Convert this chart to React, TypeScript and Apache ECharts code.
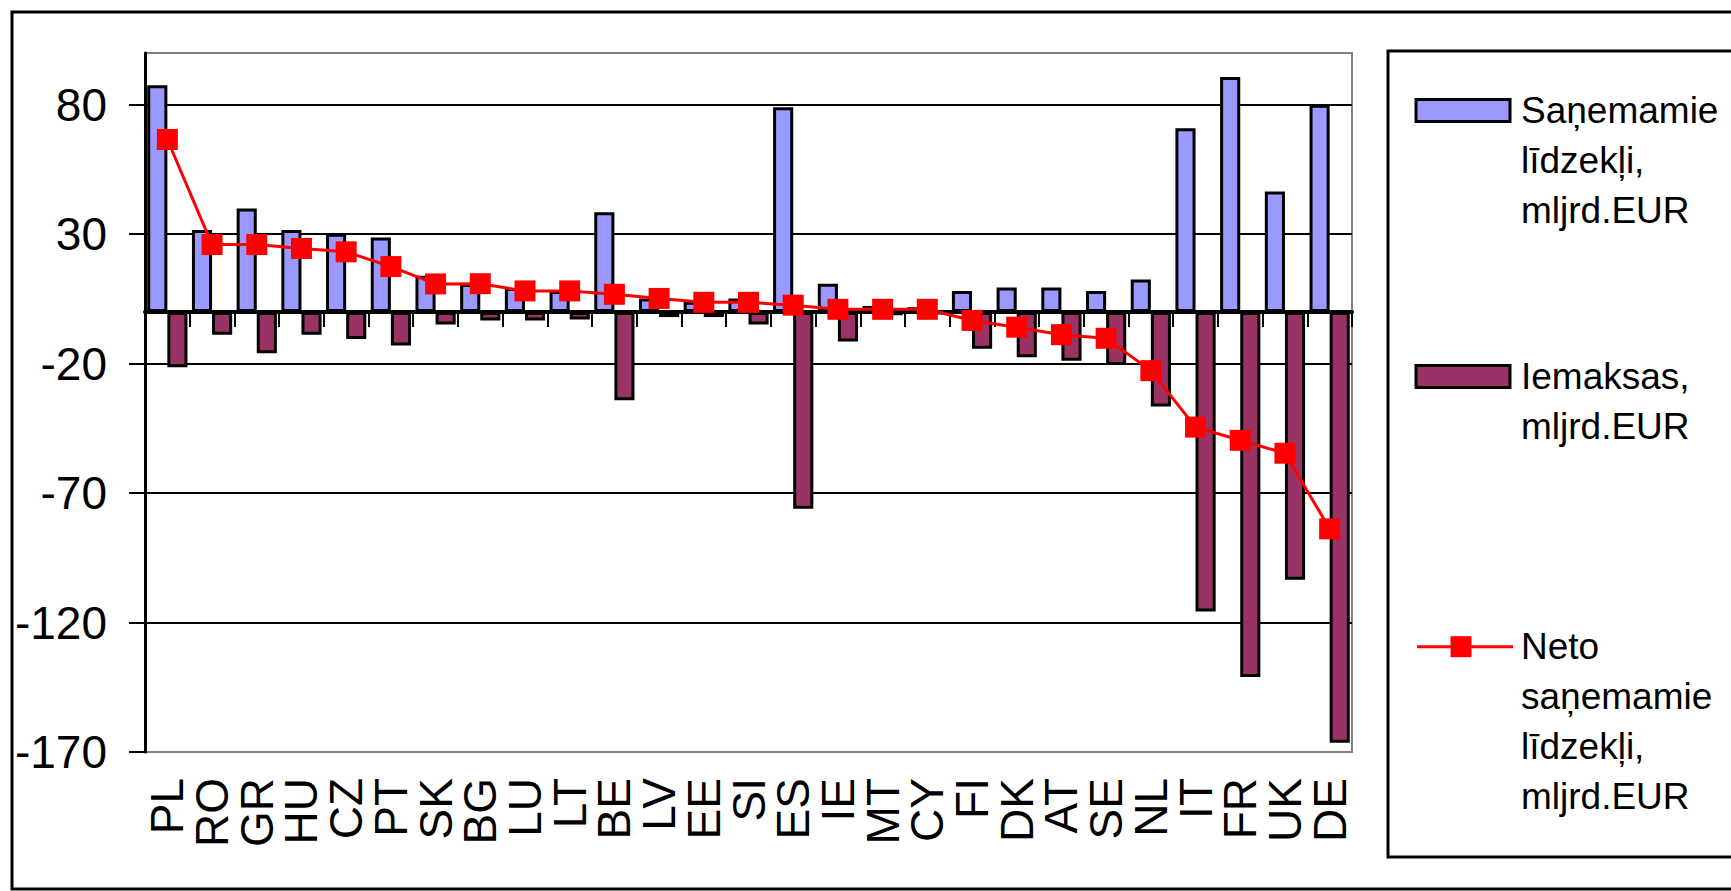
import React, { useEffect, useRef } from 'react';
import * as echarts from 'echarts';

const FONT = "'Liberation Sans', Arial, sans-serif";

const categories = ['PL', 'RO', 'GR', 'HU', 'CZ', 'PT', 'SK', 'BG', 'LU', 'LT', 'BE', 'LV', 'EE', 'SI', 'ES', 'IE', 'MT', 'CY', 'FI', 'DK', 'AT', 'SE', 'NL', 'IT', 'FR', 'UK', 'DE'];

const received = [87.5, 31.6, 39.9, 31.6, 30.2, 28.7, 14.0, 10.8, 9.2, 8.1, 38.5, 5.2, 3.9, 5.2, 79.0, 10.9, 2.3, 1.8, 8.1, 9.4, 9.4, 8.1, 12.5, 70.9, 90.7, 46.5, 80.0];

const payments = [-21.4, -8.8, -16.0, -8.8, -10.5, -13.0, -4.9, -3.3, -3.3, -2.9, -34.1, -2.0, -2.0, -4.9, -76.0, -11.4, -1.3, -0.8, -14.2, -17.5, -18.9, -20.5, -36.5, -115.7, -141.0, -103.5, -166.4];

const net = [66.6, 26.0, 26.0, 24.5, 23.2, 17.5, 10.8, 10.9, 8.1, 8.1, 6.8, 5.2, 3.7, 3.7, 2.6, 1.0, 1.0, 1.0, -3.3, -5.9, -8.8, -10.2, -22.7, -44.5, -49.6, -54.6, -83.8];

const yTicks = [-170, -120, -70, -20, 30, 80];

const seriesNames = [
  'Saņemamie līdzekļi, mljrd.EUR',
  'Iemaksas, mljrd.EUR',
  'Neto saņemamie līdzekļi, mljrd.EUR',
];

const legendLines = [
  ['Saņemamie', 'līdzekļi,', 'mljrd.EUR'],
  ['Iemaksas,', 'mljrd.EUR'],
  ['Neto', 'saņemamie', 'līdzekļi,', 'mljrd.EUR'],
];

const COLORS = ['#9999FF', '#993366', '#FF0000'];

export default function App() {
  const ref = useRef<HTMLDivElement>(null);

  useEffect(() => {
    document.body.style.margin = '0';
    const chart = echarts.init(ref.current!, null, { renderer: 'svg' });

    const legendY = [110.5, 376.5, 646.7];
    const legendGraphics: any[] = [];
    legendY.forEach((cy, i) => {
      if (i < 2) {
        legendGraphics.push({
          type: 'rect',
          shape: { x: 1416, y: cy - 11, width: 94, height: 22 },
          style: { fill: COLORS[i], stroke: '#000', lineWidth: 3 },
        });
      } else {
        legendGraphics.push({
          type: 'line',
          shape: { x1: 1417, y1: cy, x2: 1513, y2: cy },
          style: { stroke: COLORS[2], lineWidth: 3 },
        });
        legendGraphics.push({
          type: 'rect',
          shape: { x: 1461 - 10.5, y: cy - 10.5, width: 21, height: 21 },
          style: { fill: COLORS[2] },
        });
      }
      legendGraphics.push({
        type: 'text',
        x: 1521,
        y: cy - 25,
        style: {
          text: legendLines[i].join('\n'),
          fontSize: 37,
          fontFamily: FONT,
          lineHeight: 50,
          fill: '#000',
          verticalAlign: 'top',
          align: 'left',
        },
      });
    });

    chart.setOption({
      animation: false,
      backgroundColor: '#fff',
      textStyle: { fontFamily: FONT },
      grid: {
        left: 145,
        top: 53,
        right: 379,
        bottom: 139,
        show: true,
        borderColor: '#808080',
        borderWidth: 2,
        backgroundColor: 'transparent',
        containLabel: false,
        outerBoundsMode: 'none',
      },
      xAxis: [
        {
          type: 'category',
          data: categories,
          position: 'bottom',
          axisLine: { show: true, onZero: true, lineStyle: { color: '#000', width: 4 } },
          axisTick: { show: true, interval: 0, length: 15, lineStyle: { color: '#000', width: 2 } },
          axisLabel: { show: false },
          splitLine: { show: false },
        },
        {
          type: 'category',
          data: categories,
          position: 'bottom',
          axisLine: { show: false, onZero: false },
          axisTick: { show: false },
          splitLine: { show: false },
          axisLabel: {
            show: true,
            interval: 0,
            rotate: 90,
            margin: 26,
            fontSize: 46,
            color: '#000',
            fontFamily: FONT,
          },
        },
      ],
      yAxis: {
        type: 'value',
        min: -170,
        max: 100,
        axisLine: { show: true, onZero: false, lineStyle: { color: '#000', width: 3 } },
        axisTick: { show: true, length: 16, customValues: yTicks, lineStyle: { color: '#000', width: 2 } },
        axisLabel: { customValues: yTicks, fontSize: 46, color: '#000', margin: 38, fontFamily: FONT },
        splitLine: { show: true, showMinLine: false, lineStyle: { color: '#000', width: 2 } },
      },
      series: [
        {
          name: seriesNames[0],
          type: 'bar',
          data: received,
          barGap: '0%',
          barCategoryGap: '10%',
          itemStyle: { color: COLORS[0], borderColor: '#000', borderWidth: 3 },
        },
        {
          name: seriesNames[1],
          type: 'bar',
          data: payments,
          barGap: '0%',
          barCategoryGap: '10%',
          itemStyle: { color: COLORS[1], borderColor: '#000', borderWidth: 3 },
        },
        {
          name: seriesNames[2],
          type: 'line',
          data: net,
          symbol: 'rect',
          symbolSize: 21,
          z: 5,
          itemStyle: { color: COLORS[2] },
          lineStyle: { color: COLORS[2], width: 3 },
        },
      ],
      graphic: [
        {
          type: 'rect',
          shape: { x: 12, y: 12, width: 1800, height: 877 },
          style: { fill: 'none', stroke: '#000', lineWidth: 3 },
        },
        {
          type: 'rect',
          shape: { x: 1388, y: 51, width: 600, height: 806 },
          style: { fill: 'none', stroke: '#000', lineWidth: 3 },
        },
        ...legendGraphics,
      ],
    });

    return () => chart.dispose();
  }, []);

  return (
    <div
      ref={ref}
      style={{ position: 'fixed', left: 0, top: 0, width: 1731, height: 891, background: '#fff' }}
    />
  );
}
